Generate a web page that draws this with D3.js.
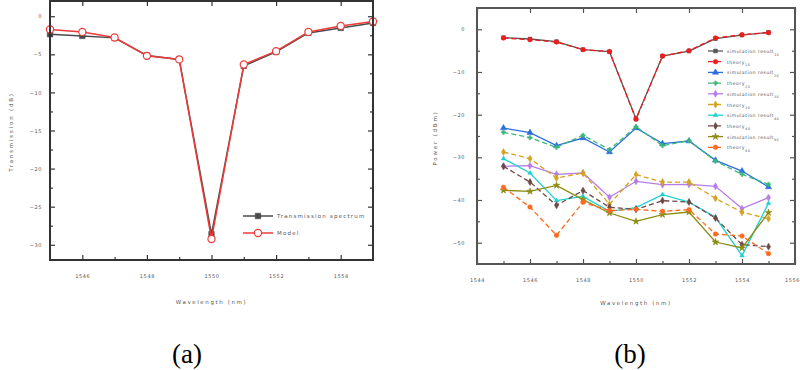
<!DOCTYPE html>
<html>
<head>
<meta charset="utf-8">
<script src="https://cdn.jsdelivr.net/npm/d3@7"></script>
<style>
  body { margin: 0; background: #fff; }
  svg text { font-family: "DejaVu Sans", sans-serif; }
  svg text.caption { font-family: "Liberation Serif", "Times New Roman", serif; }
</style>
</head>
<body>
<svg id="chart" width="800" height="370"></svg>
<script>
// wavelengths (nm) shared by both panels
const wavelengths = [1545, 1546, 1547, 1548, 1549, 1550, 1551, 1552, 1553, 1554, 1555];

// panel (a)
const simA = [-2.36, -2.58, -2.84, -5.15, -5.67, -28.6, -6.51, -4.68, -2.19, -1.53, -0.88];
const fitA = [-1.74, -2.06, -2.79, -5.20, -5.67, -29.25, -6.33, -4.59, -2.06, -1.27, -0.69];
const yTicksA = [0, -5, -10, -15, -20, -25, -30];
const xTicksA = [1546, 1548, 1550, 1552, 1554];

// panel (b)
const sim10 = [-1.95, -2.27, -2.88, -4.76, -5.23, -20.93, -6.26, -5.09, -2.18, -1.34, -0.70];
const fit10 = [-2.03, -2.42, -2.97, -4.76, -5.23, -21.10, -6.26, -5.00, -2.03, -1.25, -0.78];
const sim20 = [-23.13, -24.21, -27.26, -25.47, -28.76, -23.13, -26.79, -26.18, -30.70, -33.21, -36.96];
const fit20 = [-24.14, -25.38, -27.65, -24.84, -28.19, -22.80, -27.26, -26.08, -30.87, -33.98, -36.33];
const sim30 = [-32.11, -31.95, -33.98, -33.68, -39.37, -35.62, -36.40, -36.33, -36.79, -42.02, -39.44];
const fit30 = [-28.76, -30.30, -34.85, -33.68, -41.01, -34.05, -35.79, -35.79, -39.61, -42.89, -44.37];
const sim40 = [-30.30, -33.68, -40.15, -39.14, -42.65, -41.79, -38.74, -40.47, -44.06, -53.04, -40.78];
const fit40 = [-32.11, -35.79, -41.25, -37.80, -41.72, -42.19, -40.15, -40.47, -44.22, -50.46, -50.93];
const sim50 = [-37.73, -37.97, -36.56, -39.91, -43.05, -45.00, -43.43, -42.82, -49.85, -51.25, -42.96];
const fit50 = [-37.03, -41.65, -48.28, -40.54, -42.49, -42.19, -42.65, -42.26, -47.97, -48.44, -52.57];
const yTicksB = [0, -10, -20, -30, -40, -50];
const xTicksB = [1544, 1546, 1548, 1550, 1552, 1554, 1556];

const svg = d3.select('#chart');

// inward ticks on all four sides, like the old plotting package did
const drawFrame = (g, x, y, opt) => {
    const [x0, x1] = x.range();
    const [y0, y1] = y.range();
    const tickCol = opt.frameColor;

    const xMaj = opt.xMajor, xMin = opt.xMinor;
    const yMaj = opt.yMajor, yMin = opt.yMinor;

    g.append('g').attr('transform', `translate(0,${y0})`)
        .call(d3.axisBottom(x).tickValues(xMin).tickSize(-3).tickFormat(''));
    g.append('g').attr('class', 'xlab').attr('transform', `translate(0,${y0})`)
        .call(d3.axisBottom(x).tickValues(xMaj).tickSize(-5).tickPadding(14).tickFormat(d3.format('d')));
    g.append('g').attr('transform', `translate(0,${y1})`)
        .call(d3.axisTop(x).tickValues(xMaj).tickSize(-5).tickFormat(''));
    g.append('g').attr('transform', `translate(${x0},0)`)
        .call(d3.axisLeft(y).tickValues(yMin).tickSize(-3).tickFormat(''));
    g.append('g').attr('transform', `translate(${x0},0)`)
        .call(d3.axisLeft(y).tickValues(yMaj).tickSize(-5).tickPadding(opt.yPad).tickFormat(d3.format('d')));
    g.append('g').attr('transform', `translate(${x1},0)`)
        .call(d3.axisRight(y).tickValues(yMin).tickSize(-3).tickFormat(''));
    g.append('g').attr('transform', `translate(${x1},0)`)
        .call(d3.axisRight(y).tickValues(yMaj).tickSize(-5).tickFormat(''));

    g.selectAll('.domain').remove();
    g.selectAll('.tick line').attr('stroke', tickCol).attr('stroke-width', 1.2);
    g.selectAll('.tick text')
        .attr('font-size', 5)
        .attr('letter-spacing', 0.6)
        .attr('fill', '#555');
    // last x label sits on the right frame edge; nudge it in so it is not clipped
    if (opt.nudgeLast) {
        g.selectAll('.xlab .tick text').filter(d => d === xMaj[xMaj.length - 1]).attr('dx', -3);
    }

    g.append('rect')
        .attr('x', x0).attr('y', y1)
        .attr('width', x1 - x0).attr('height', y0 - y1)
        .attr('fill', 'none')
        .attr('stroke', tickCol)
        .attr('stroke-width', 2);

    g.append('text')
        .attr('x', (x0 + x1) / 2).attr('y', opt.xLabelY)
        .attr('text-anchor', 'middle')
        .attr('font-size', 5.5).attr('letter-spacing', 1.6).attr('fill', '#555')
        .text('Wavelength (nm)');

    g.append('text')
        .attr('transform', `translate(${opt.yLabelX},${opt.yLabelCY}) rotate(-90)`)
        .attr('text-anchor', 'middle')
        .attr('font-size', 5.5).attr('letter-spacing', 1.8).attr('fill', '#555')
        .text(opt.yLabel);
};

const drawSeries = (g, x, y, s) => {
    const pts = wavelengths.map((w, i) => [w, s.values[i]]);
    const line = d3.line().x(d => x(d[0])).y(d => y(d[1]));

    g.append('path')
        .datum(pts)
        .attr('d', line)
        .attr('fill', 'none')
        .attr('stroke', s.color)
        .attr('stroke-width', s.width)
        .attr('stroke-dasharray', s.dash ? '5,3' : null);

    const sym = d3.symbol().type(s.symbol).size(s.size);
    g.selectAll(null)
        .data(pts)
        .enter().append('path')
        .attr('d', sym)
        .attr('transform', d => `translate(${x(d[0])},${y(d[1])})`)
        .attr('fill', s.hollow ? '#fff' : s.color)
        .attr('stroke', s.color)
        .attr('stroke-width', s.hollow ? 1.2 : 0.6);
};

const drawLegend = (g, items, lx, ly, dy, len, fs, ls) => {
    items.forEach((s, i) => {
        const yy = ly + i * dy;
        const row = g.append('g');
        row.append('line')
            .attr('x1', lx).attr('x2', lx + len)
            .attr('y1', yy).attr('y2', yy)
            .attr('stroke', s.color).attr('stroke-width', s.width)
            .attr('stroke-dasharray', s.dash ? '5,3' : null);
        row.append('path')
            .attr('d', d3.symbol().type(s.symbol).size(s.size))
            .attr('transform', `translate(${lx + len / 2},${yy})`)
            .attr('fill', s.hollow ? '#fff' : s.color)
            .attr('stroke', s.color)
            .attr('stroke-width', s.hollow ? 1.2 : 0.6);
        const t = row.append('text')
            .attr('x', lx + len + 4).attr('y', yy + 2)
            .attr('font-size', fs).attr('letter-spacing', ls).attr('fill', '#555')
            .text(s.label);
        if (s.sub) {
            t.append('tspan').attr('dy', 2.5).attr('font-size', fs * 0.75).text(s.sub);
        }
    });
};

// ---------- panel (a) ----------
const xA = d3.scaleLinear().domain([1545, 1555]).range([50, 373]);
const yA = d3.scaleLinear().domain([-32, 2]).range([260, 1]);
const gA = svg.append('g');

const seriesA = [
    { label: 'Transmission spectrum', values: simA, color: '#4a4a4a', width: 1.5, symbol: d3.symbolSquare, size: 30 },
    { label: 'Model', values: fitA, color: '#f03a3a', width: 1.5, symbol: d3.symbolCircle, size: 40, hollow: true }
];
seriesA.forEach(s => drawSeries(gA, xA, yA, s));
drawFrame(gA, xA, yA, {
    frameColor: '#333',
    xMajor: xTicksA, xMinor: [1547, 1549, 1551, 1553],
    yMajor: yTicksA, yMinor: d3.range(-27.5, 0, 5),
    yPad: 8,
    xLabelY: 304, yLabelX: 13, yLabelCY: 132,
    yLabel: 'Transmission (dB)'
});
drawLegend(gA, seriesA, 243, 216, 17, 30, 5.5, 1.2);

// ---------- panel (b) ----------
const xB = d3.scaleLinear().domain([1544, 1556]).range([477, 795]);
const yB = d3.scaleLinear().domain([-55, 5]).range([264, 8]);
const gB = svg.append('g');

const seriesB = [
    { label: 'simulation result', sub: '10', values: sim10, color: '#555555', width: 1.3, symbol: d3.symbolSquare, size: 14 },
    { label: 'theory', sub: '10', values: fit10, color: '#ee1c1c', width: 1.3, dash: true, symbol: d3.symbolCircle, size: 16 },
    { label: 'simulation result', sub: '20', values: sim20, color: '#2c6fdc', width: 1.3, symbol: d3.symbolTriangle, size: 16 },
    { label: 'theory', sub: '20', values: fit20, color: '#3cb878', width: 1.3, dash: true, symbol: d3.symbolCross, size: 10 },
    { label: 'simulation result', sub: '30', values: sim30, color: '#b77ce8', width: 1.3, symbol: d3.symbolDiamond, size: 14 },
    { label: 'theory', sub: '30', values: fit30, color: '#d4a21e', width: 1.3, dash: true, symbol: d3.symbolDiamond, size: 14 },
    { label: 'simulation result', sub: '40', values: sim40, color: '#1fd0d0', width: 1.3, symbol: d3.symbolTriangle2, size: 14 },
    { label: 'theory', sub: '40', values: fit40, color: '#6e4848', width: 1.3, dash: true, symbol: d3.symbolDiamond, size: 14 },
    { label: 'simulation result', sub: '50', values: sim50, color: '#8c8c14', width: 1.3, symbol: d3.symbolStar, size: 14 },
    { label: 'theory', sub: '50', values: fit50, color: '#ff6a1e', width: 1.3, dash: true, symbol: d3.symbolCircle, size: 16 }
];
seriesB.forEach(s => drawSeries(gB, xB, yB, s));
drawFrame(gB, xB, yB, {
    frameColor: '#555',
    xMajor: xTicksB, xMinor: d3.range(1545, 1556, 2),
    yMajor: yTicksB, yMinor: d3.range(-45, 5, 10),
    yPad: 12, nudgeLast: true,
    xLabelY: 305, yLabelX: 437, yLabelCY: 138,
    yLabel: 'Power (dBm)'
});
drawLegend(gB, seriesB, 708, 51, 10.7, 15, 4.6, 0.5);

// ---------- captions ----------
svg.append('text')
    .attr('class', 'caption')
    .attr('x', 187).attr('y', 363)
    .attr('text-anchor', 'middle')
    .attr('font-size', 27)
    .text('(a)');
svg.append('text')
    .attr('class', 'caption')
    .attr('x', 630).attr('y', 363)
    .attr('text-anchor', 'middle')
    .attr('font-size', 27)
    .text('(b)');
</script>
</body>
</html>
